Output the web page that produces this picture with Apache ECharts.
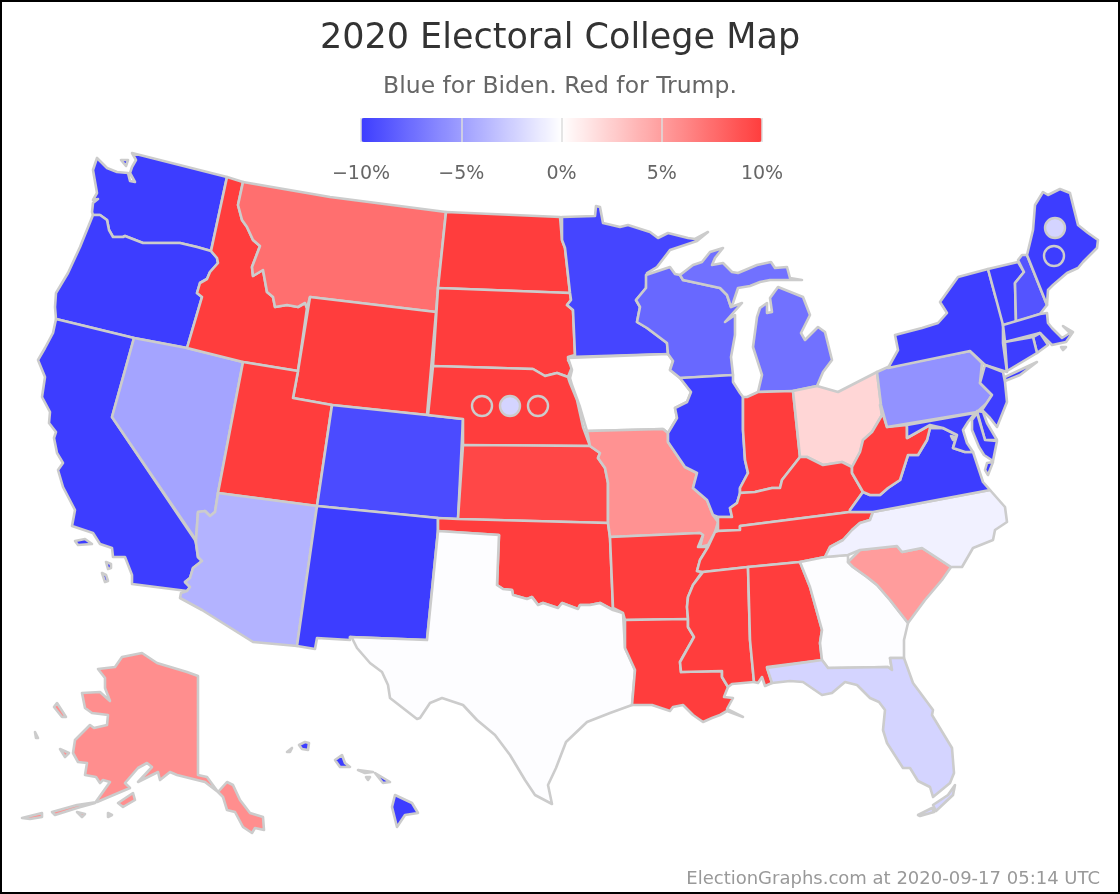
<!DOCTYPE html>
<html>
<head>
<meta charset="utf-8">
<title>2020 Electoral College Map</title>
<script src="https://cdn.jsdelivr.net/npm/echarts@6/dist/echarts.min.js"></script>
<style>
html,body{margin:0;padding:0;background:#fff}
#main{width:1120px;height:894px}
</style>
</head>
<body>
<div id="main"></div>
<script>
// margins in percentage points, negative = Biden. the colour scale stops at +-10 so that is as far as the picture can be read
var stateNames = ['WA','OR','CA','NV','ID','MT','WY','UT','AZ','CO','NM','ND','SD','NE','KS','OK','TX','MN','IA','MO','AR','LA','WI','IL','MI','IN','OH','KY','TN','MS','AL','GA','FL','SC','NC','VA','WV','PA','NY','VT','NH','ME','MA','RI','CT','NJ','DE','MD','DC','AK','HI'];
var stateMargins = [-10,-10,-10,-4.7,10,7.4,10,10,-3.9,-9.3,-10,10,10,10,9.5,10,-0.1,-9.6,0,5.6,10,10,-7.8,-10,-7.3,10,2.1,10,10,10,10,-0.1,-2.2,5.1,-0.7,-10,10,-5.6,-10,-10,-8.8,-10,-10,-10,-10,-10,-10,-10,-10,5.8,-10];

// congressional districts that vote on their own
var districtNames = ['NE-1','NE-2','NE-3','ME-1','ME-2'];
var districtMargins = [10,-2.2,10,-2.2,-10];
var districtX = [482,510,538,1055,1054];
var districtY = [406,406,406,228,256];

var scaleTicks = [-10,-5,0,5,10];

// state outlines, traced in picture pixels. rings split by |
var stateShapes = {
WA:'97,158 93,170 97,193 93,200 98,199 93,203 92,212 93,215 100,215 107,220 109,230 113,237 123,237 125,236 143,243 158,243 180,243 197,247 211,251 227,177 132,153 136,160 132,167 130,173 135,182 130,181 128,173 117,172 107,168|121,160 128,160 126,166',
OR:'93,215 100,215 107,220 109,230 113,237 123,237 125,236 143,243 158,243 180,243 197,247 211,251 217,258 218,263 210,272 207,279 200,283 197,293 202,297 187,348 134,338 56,319 55,307 56,293 68,273 80,247',
CA:'56,319 134,338 112,417 195,540 196,543 198,557 202,561 193,568 190,578 185,582 190,587 187,591 132,584 132,575 125,557 113,557 112,548 100,544 93,533 72,526 75,510 63,487 58,470 63,463 57,453 54,438 56,432 49,423 50,412 42,397 45,377 38,360 45,348 53,333|75,541 85,539 92,544 78,545|106,562 111,564 111,568 108,569|102,573 106,575 108,581 105,582',
NV:'134,338 187,348 243,362 218,493 215,512 210,516 205,511 198,512 196,540 195,540 112,417',
ID:'227,177 243,182 238,205 242,220 247,227 253,240 260,246 252,267 253,276 263,270 267,292 273,297 275,307 287,305 298,307 305,303 307,308 298,371 243,362 187,348 202,297 197,293 200,283 207,279 210,272 218,263 217,258 211,251',
MT:'243,182 330,197 446,212 438,288 436,312 310,297 307,308 305,303 298,307 287,305 275,307 273,297 267,292 263,270 253,276 252,267 260,246 253,240 247,227 242,220 238,205',
WY:'310,297 436,312 427,415 332,405 293,398 298,371',
UT:'243,362 298,371 293,398 332,405 317,506 218,493',
AZ:'218,493 317,506 297,646 253,642 202,610 180,598 181,593 187,591 190,587 185,582 190,578 193,568 202,561 198,557 196,543 196,540 198,512 205,511 210,516 215,512',
CO:'332,405 427,415 463,419 458,519 438,518 317,506',
NM:'317,506 438,518 438,531 427,640 350,637 350,640 317,638 315,649 297,646',
ND:'446,212 560,217 562,240 565,248 570,293 438,288',
SD:'438,288 570,293 571,300 567,305 573,310 575,355 568,360 572,367 568,377 557,373 545,376 533,369 433,366',
NE:'433,366 533,369 545,376 557,373 568,377 570,383 577,400 583,427 590,446 463,445 463,419 428,415',
KS:'463,445 590,446 600,453 598,458 605,468 608,483 608,523 458,519',
OK:'438,518 458,519 608,523 610,537 613,608 613,610 600,603 590,605 580,605 578,609 562,603 558,608 543,603 538,605 532,597 527,599 513,595 512,590 503,589 497,585 499,535 438,531',
TX:'438,531 499,535 497,585 503,589 512,590 513,595 527,599 532,597 538,605 543,603 558,608 562,603 578,609 580,605 590,605 600,603 613,610 623,613 625,648 635,670 632,705 610,713 587,722 566,742 556,768 548,785 552,804 535,795 525,780 510,755 495,735 477,720 463,705 442,698 430,703 420,718 417,719 390,698 388,685 382,672 370,663 357,648 352,638 350,637 427,640',
MN:'562,217 595,216 596,206 600,207 603,223 620,227 628,225 650,232 658,238 668,233 688,238 695,239 708,232 697,241 670,250 657,267 647,273 646,288 636,300 640,307 637,322 647,328 667,343 668,354 568,357 575,355 573,310 567,305 571,300 570,293 565,248 562,240',
IA:'568,358 668,354 673,361 670,370 680,378 691,392 687,402 675,408 677,418 668,433 663,429 587,431 580,407 572,385 570,378 572,370',
MO:'587,431 663,429 668,433 668,442 685,467 697,473 693,488 707,500 713,515 718,522 715,532 708,545 700,547 703,535 700,533 610,537 608,523 608,483 605,468 598,458 600,453 590,446',
AR:'610,537 700,533 703,535 698,547 708,547 700,560 697,571 702,572 693,585 688,597 687,607 688,619 625,620 623,613 613,608',
LA:'625,620 688,619 688,627 694,637 680,662 681,672 722,671 722,677 728,687 724,697 733,698 727,709 743,717 727,711 720,715 712,718 703,722 693,715 683,705 673,707 670,711 652,705 632,705 635,670 625,648',
WI:'646,275 670,267 675,274 680,275 683,280 720,288 727,295 731,307 742,303 725,322 735,315 735,335 731,357 733,375 682,378 680,378 670,370 673,361 668,354 667,343 647,328 637,322 640,307 636,300 646,288',
IL:'680,378 733,375 733,382 740,393 743,397 743,430 745,460 748,473 740,488 740,493 737,503 730,508 732,517 718,517 713,515 707,500 693,488 697,473 685,467 668,442 668,433 677,418 675,408 687,402 691,392',
MI:'680,275 693,265 702,262 710,252 723,248 715,258 712,265 723,263 732,272 738,273 757,265 771,262 775,268 787,267 790,278 802,280 790,280 770,280 760,282 750,286 738,288 733,303 731,307 727,295 720,288 683,280|758,392 762,375 753,347 757,317 760,308 767,303 767,313 772,312 770,298 778,287 803,297 810,315 801,333 805,340 818,327 825,332 832,360 823,372 817,386 793,391',
IN:'743,397 747,397 758,392 793,391 800,457 782,480 780,488 772,488 755,492 740,493 740,488 748,473 745,460 743,430',
OH:'793,391 817,386 838,392 877,372 881,405 882,415 872,432 863,440 860,452 852,467 842,462 823,465 807,457 800,457',
KY:'718,531 718,517 732,517 730,508 737,503 740,493 755,492 772,488 780,488 782,480 800,457 807,457 823,465 842,462 852,467 852,473 863,492 850,510 850,512 740,526 740,530',
TN:'697,571 700,560 708,547 715,532 718,531 740,530 740,526 850,512 873,512 870,520 860,523 852,530 843,540 830,547 825,557 800,562 748,567 703,572',
MS:'703,572 748,567 750,640 754,682 732,684 728,687 722,677 722,671 681,672 680,662 694,637 688,627 688,619 687,607 688,597 693,585',
AL:'748,567 800,562 810,587 822,630 820,643 822,660 767,667 772,683 765,686 762,677 758,683 754,682 750,640',
GA:'800,562 825,557 848,555 848,562 853,567 867,577 877,585 890,600 908,623 904,640 904,658 890,658 892,670 888,667 828,668 822,660 820,643 822,630 810,587',
FL:'767,668 822,660 828,668 888,667 892,670 890,658 904,658 913,683 933,710 932,715 952,748 954,773 950,783 933,797 930,787 918,781 910,768 903,768 887,743 883,730 885,710 879,702 870,698 857,685 845,682 832,693 822,695 803,682 790,681 772,683|955,785 953,795 936,811 933,805 948,795|918,815 932,808 934,812 920,816',
SC:'848,562 860,550 897,546 902,552 922,548 951,567 942,580 925,600 908,623 890,600 877,585 867,577 853,567',
NC:'873,512 990,490 1005,507 1007,522 995,530 993,540 973,548 962,567 951,567 922,548 902,552 897,546 860,550 848,555 825,557 830,547 843,540 852,530 860,523 870,520',
VA:'850,510 863,492 870,495 880,495 888,488 900,480 908,455 918,455 927,440 930,428 943,428 957,435 953,448 965,452 973,452 980,473 983,482 990,490 873,512 850,512|993,462 988,475 985,470 987,463',
WV:'880,405 887,427 907,425 907,438 928,426 943,428 930,428 927,440 918,455 908,455 900,480 888,488 880,495 870,495 863,492 852,473 852,467 860,452 863,440 872,432 882,415',
PA:'877,372 888,367 970,351 982,363 980,383 985,388 992,395 987,403 977,412 887,427 881,405',
NY:'888,368 898,350 895,335 922,328 938,323 947,313 940,302 958,277 988,269 995,295 1003,317 1003,343 1007,372 985,365 970,351|1005,377 1037,362 1020,375 1005,381',
VT:'988,269 1018,262 1024,272 1015,283 1016,322 1003,325 995,295',
NH:'1018,260 1022,255 1027,255 1047,305 1040,314 1016,322 1015,283 1024,272',
ME:'1027,255 1033,230 1035,205 1043,192 1048,195 1060,189 1070,193 1078,225 1088,233 1098,240 1097,248 1083,262 1078,268 1067,273 1053,285 1048,290 1047,305',
MA:'1003,325 1040,314 1047,313 1048,323 1052,328 1062,338 1070,333 1063,326 1073,332 1066,342 1052,345 1040,333 1005,342|1061,347 1066,347 1063,350',
RI:'1033,337 1040,333 1048,345 1037,353',
CT:'1005,342 1033,337 1037,353 1007,371',
NJ:'985,365 1003,372 1005,382 1007,402 997,427 990,418 982,410 992,395 985,388 980,383',
DE:'977,411 983,412 987,423 997,440 985,440',
MD:'907,425 975,413 968,422 963,430 967,443 973,452 965,452 953,448 957,435 943,428 930,425 907,438|977,413 985,440 997,441 993,461 984,455 979,447 972,430 972,420',
DC:'951,436 955,437 953,440',
AK:'98,669 115,667 122,657 142,653 157,663 187,672 198,676 198,775 207,777 218,792 227,782 233,785 240,800 250,813 263,817 264,830 255,828 252,833 243,827 235,812 227,810 223,797 218,792 205,782 177,775 170,772 160,780 158,772 138,782 152,767 147,763 138,768 125,783 130,788 97,802 77,805 52,812 55,815 77,808 95,803 110,782 103,780 100,783 96,777 85,775 87,763 78,762 73,753 75,740 90,725 94,728 107,725 108,715 92,713 85,708 82,693 100,692 110,701 105,688 105,678|118,803 133,793 135,800 123,807|54,707 57,703 66,717 62,717|60,749 69,753 65,757|35,732 38,738 36,738|22,818 42,813 42,817 30,819|77,812 85,814 82,817|108,813 112,815 108,817',
HI:'395,795 412,803 418,813 405,815 397,827 392,807|375,773 390,782 383,783|358,770 373,772 365,773|366,777 370,777 368,780|335,760 342,755 345,763 350,767 340,767|299,745 305,742 309,743 308,750 302,749|287,752 292,748 290,752'
};

function ringCoords(ring){
    var pts = ring.split(' ').map(function(p){
        var xy = p.split(',');
        return [+xy[0], -xy[1]];
    });
    pts.push(pts[0]);
    return [pts];
}

var usMap = {
    type: 'FeatureCollection',
    features: stateNames.map(function(name){
        return {
            type: 'Feature',
            properties: {name: name},
            geometry: {type: 'MultiPolygon', coordinates: stateShapes[name].split('|').map(ringCoords)}
        };
    })
};
echarts.registerMap('us', usMap);

var scaleColors = ['#3d3dff','#ffffff','#ff3d3d'];
var font = '"DejaVu Sans", sans-serif';

var myChart = echarts.init(document.getElementById('main'));
myChart.setOption({
    animation: false,
    backgroundColor: '#fff',
    title: [
        {text: '2020 Electoral College Map', left: 'center', top: 16, textStyle: {color: '#333', fontSize: 35, fontWeight: 'normal', fontFamily: font}},
        {text: 'Blue for Biden. Red for Trump.', left: 'center', top: 70, textStyle: {color: '#666', fontSize: 23.5, fontWeight: 'normal', fontFamily: font}},
        {text: 'ElectionGraphs.com at 2020-09-17 05:14 UTC', right: 15, top: 865, textStyle: {color: '#999', fontSize: 18, fontWeight: 'normal', fontFamily: font}}
    ],
    graphic: [{
        type: 'rect',
        shape: {x: 1, y: 1, width: 1118, height: 892},
        style: {fill: 'none', stroke: '#000', lineWidth: 2},
        silent: true
    }],
    grid: {left: 361, width: 401, top: 118, height: 24},
    xAxis: {
        type: 'value', min: scaleTicks[0], max: scaleTicks[4], interval: 5, z: 10,
        axisLine: {show: false},
        axisTick: {show: false},
        splitLine: {show: true, showMinLine: true, showMaxLine: true, lineStyle: {color: '#ddd', width: 1.5}},
        axisLabel: {
            margin: 23, color: '#666', fontSize: 19, fontFamily: font,
            formatter: function(v){ return String(v).replace('-', '\u2212') + '%'; }
        }
    },
    yAxis: {type: 'value', show: false},
    visualMap: [
        {
            type: 'continuous', seriesIndex: 0, min: -10, max: 10, orient: 'horizontal',
            left: 361, top: 118, itemWidth: 24, itemHeight: 401, text: ['', ''], padding: 0, z: 2,
            calculable: false, hoverLink: false, realtime: false, showLabel: false,
            inRange: {color: scaleColors}
        },
        {
            type: 'continuous', seriesIndex: 1, dimension: 2, min: -10, max: 10, show: false,
            inRange: {color: scaleColors}
        }
    ],
    geo: {
        map: 'us',
        left: 0, top: 0, width: 1120, height: 894,
        aspectScale: 1,
        boundingCoords: [[0, 0], [1120, -894]],
        silent: true,
        itemStyle: {areaColor: '#fff', borderColor: '#ccc', borderWidth: 2.6, borderJoin: 'round'},
        emphasis: {disabled: true},
        select: {disabled: true},
        label: {show: false}
    },
    series: [
        {
            type: 'map', geoIndex: 0, silent: true,
            data: stateNames.map(function(name, i){ return {name: name, value: stateMargins[i]}; })
        },
        {
            type: 'scatter', coordinateSystem: 'geo', silent: true, symbolSize: 20, z: 5,
            itemStyle: {borderColor: '#ccc', borderWidth: 2.4, opacity: 1},
            data: districtNames.map(function(name, i){
                return {name: name, value: [districtX[i], -districtY[i], districtMargins[i]]};
            })
        }
    ]
});
</script>
</body>
</html>
